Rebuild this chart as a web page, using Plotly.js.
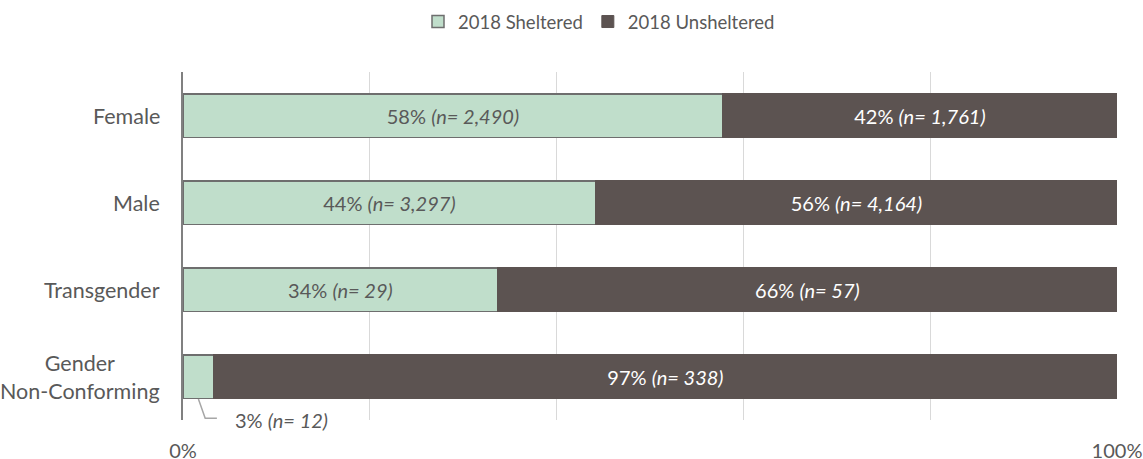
<!DOCTYPE html>
<html>
<head>
<meta charset="utf-8">
<script src="https://cdn.plot.ly/plotly-3.0.1.min.js"></script>
<style>html,body{margin:0;padding:0;background:#fff;}#chart{width:1143px;height:459px;}</style>
</head>
<body>
<div id="chart"></div>
<script>
// ---- data ----
const categories = ["Female", "Male", "Transgender", "Gender<br>Non-Conforming"];
const shelteredShare = [57.8, 44.2, 33.7, 3.3];
const unshelteredShare = [42.2, 55.8, 66.3, 96.7];
const shelteredPct = [58, 44, 34, 3];
const unshelteredPct = [42, 56, 66, 97];
const shelteredN = [2490, 3297, 29, 12];
const unshelteredN = [1761, 4164, 57, 338];
const seriesNames = ["2018 Sheltered", "2018 Unsheltered"];
const tickVals = [0, 20, 40, 60, 80, 100];
const tickText = ["0%", "", "", "", "", "100%"];

const FONT = "Lato, 'Open Sans', sans-serif";
const GREY = "#595959";
const FS = 20;
const fmt = n => n.toLocaleString("en-US");
const label = (p, n) => `${p}% <i>(n= ${fmt(n)})</i>`;

const smallIdx = shelteredShare.map((v, i) => v < 10 ? i : -1).filter(i => i >= 0);

const shelteredTrace = {
  type: "bar", orientation: "h", name: seriesNames[0],
  y: categories, x: shelteredShare,
  text: shelteredPct.map((p, i) => smallIdx.includes(i) ? "" : label(p, shelteredN[i])),
  textposition: shelteredPct.map((p, i) => smallIdx.includes(i) ? "none" : "inside"),
  insidetextanchor: "middle",
  insidetextfont: {family: FONT, size: FS, color: GREY},
  constraintext: "none",
  marker: {color: "#c0decb", line: {color: "#6e6e6e", width: 1.5}},
  hoverinfo: "skip"
};
const unshelteredTrace = {
  type: "bar", orientation: "h", name: seriesNames[1],
  y: categories, x: unshelteredShare,
  text: unshelteredPct.map((p, i) => label(p, unshelteredN[i])),
  textposition: "inside",
  insidetextanchor: "middle",
  insidetextfont: {family: FONT, size: FS, color: "#ffffff"},
  constraintext: "none",
  marker: {color: "#5c5351", line: {color: "#5c5351", width: 1}},
  hoverinfo: "skip"
};

const annotations = categories.map((c, i) => ({
  xref: "paper", yref: "y", x: 0, y: i, xshift: -21,
  xanchor: "right", yanchor: "middle", align: "center",
  text: c, showarrow: false,
  font: {family: FONT, size: 21.5, color: GREY}
}));
const shapes = [];
smallIdx.forEach(i => {
  const w = shelteredShare[i];
  annotations.push({
    xref: "x", yref: "y", x: w * 1.62, y: i + 0.5,
    xanchor: "left", yanchor: "middle", showarrow: false,
    text: label(shelteredPct[i], shelteredN[i]),
    font: {family: FONT, size: FS, color: GREY}
  });
  shapes.push({
    type: "path", xref: "x", yref: "y",
    path: `M ${w * 0.5} ${i + 0.26} L ${w * 0.72} ${i + 0.48} L ${w * 1.1} ${i + 0.48}`,
    line: {color: "#a6a6a6", width: 1.5}
  });
});

const layout = {
  width: 1143, height: 459,
  margin: {l: 183, r: 26, t: 72, b: 39},
  paper_bgcolor: "#fff", plot_bgcolor: "#fff",
  barmode: "stack", bargap: 0.5,
  showlegend: true,
  legend: {orientation: "h", xref: "container", yref: "container",
           x: 599 / 1143, xanchor: "center", y: 1 - 22 / 459, yanchor: "middle",
           font: {family: FONT, size: 18.5, color: GREY}, itemwidth: 30, traceorder: "normal"},
  xaxis: {range: [0, 100], tickvals: tickVals, ticktext: tickText,
          showgrid: true, gridcolor: "#d9d9d9", gridwidth: 1, zeroline: false,
          ticks: "outside", ticklen: 13, tickcolor: "rgba(0,0,0,0)",
          tickfont: {family: FONT, size: FS, color: GREY}, fixedrange: true},
  yaxis: {type: "category", range: [categories.length - 0.5, -0.5], autorange: false,
          showticklabels: false, showgrid: false, zeroline: false,
          showline: true, linecolor: "#808080", linewidth: 2.5, fixedrange: true},
  annotations: annotations,
  shapes: shapes,
  font: {family: FONT, color: GREY}
};
Plotly.newPlot("chart", [shelteredTrace, unshelteredTrace], layout, {displayModeBar: false, staticPlot: true});
</script>
</body>
</html>
